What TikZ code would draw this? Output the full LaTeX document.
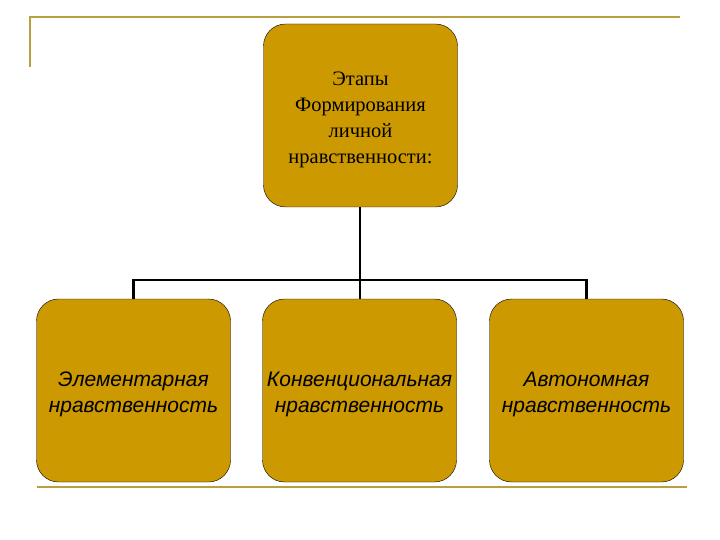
\documentclass[tikz,border=0pt]{standalone}
\usepackage{fontspec}
\setmainfont{Liberation Serif}
\setsansfont{Liberation Sans}
\usepackage{tikz}
\usetikzlibrary{positioning}

\definecolor{boxgold}{RGB}{204,153,0}
\definecolor{framegold}{RGB}{184,160,64}

\begin{document}
\begin{tikzpicture}
  [
    x=1pt, y=-1pt,
    stage/.style={draw=black, thin, fill=boxgold, rounded corners=22pt,
      minimum width=194pt, minimum height=183pt, align=center,
      text width=194pt, inner sep=0pt,
      execute at begin node={\rule{0pt}{22pt}}},
    headtext/.style={font=\fontsize{20.5}{26}\selectfont\rmfamily},
    kindtext/.style={font=\fontsize{21}{26}\selectfont\sffamily\itshape},
    link/.style={draw=black, line width=2.2pt},
    frame/.style={draw=framegold, line width=2pt}
  ]
  \useasboundingbox (0,0) rectangle (720,540);
  % slide frame
  \draw[frame] (30,67) -- (30,17) -- (680,17);
  \draw[frame] (37,487) -- (687,487);
  % head
  \node [stage, headtext] (stages) at (360.5,115.5)
    {Этапы\\Формирования\\личной\\нравственности:};
  % kinds
  \node [stage, kindtext] (elem) at (133.5,390.5)
    {Элементарная\\нравственность};
  \node [stage, kindtext] (conv) at (359.5,390.5)
    {Конвенциональная\\нравственность};
  \node [stage, kindtext] (auto) at (586.5,390.5)
    {Автономная\\нравственность};
  % links
  \coordinate (bus) at (360,280);
  \draw [link] (stages.south -| bus) -- (bus);
  \draw [link] (elem.north) |- (bus) -| (auto.north);
  \draw [link] (bus) -- (conv.north -| bus);
\end{tikzpicture}
\end{document}
